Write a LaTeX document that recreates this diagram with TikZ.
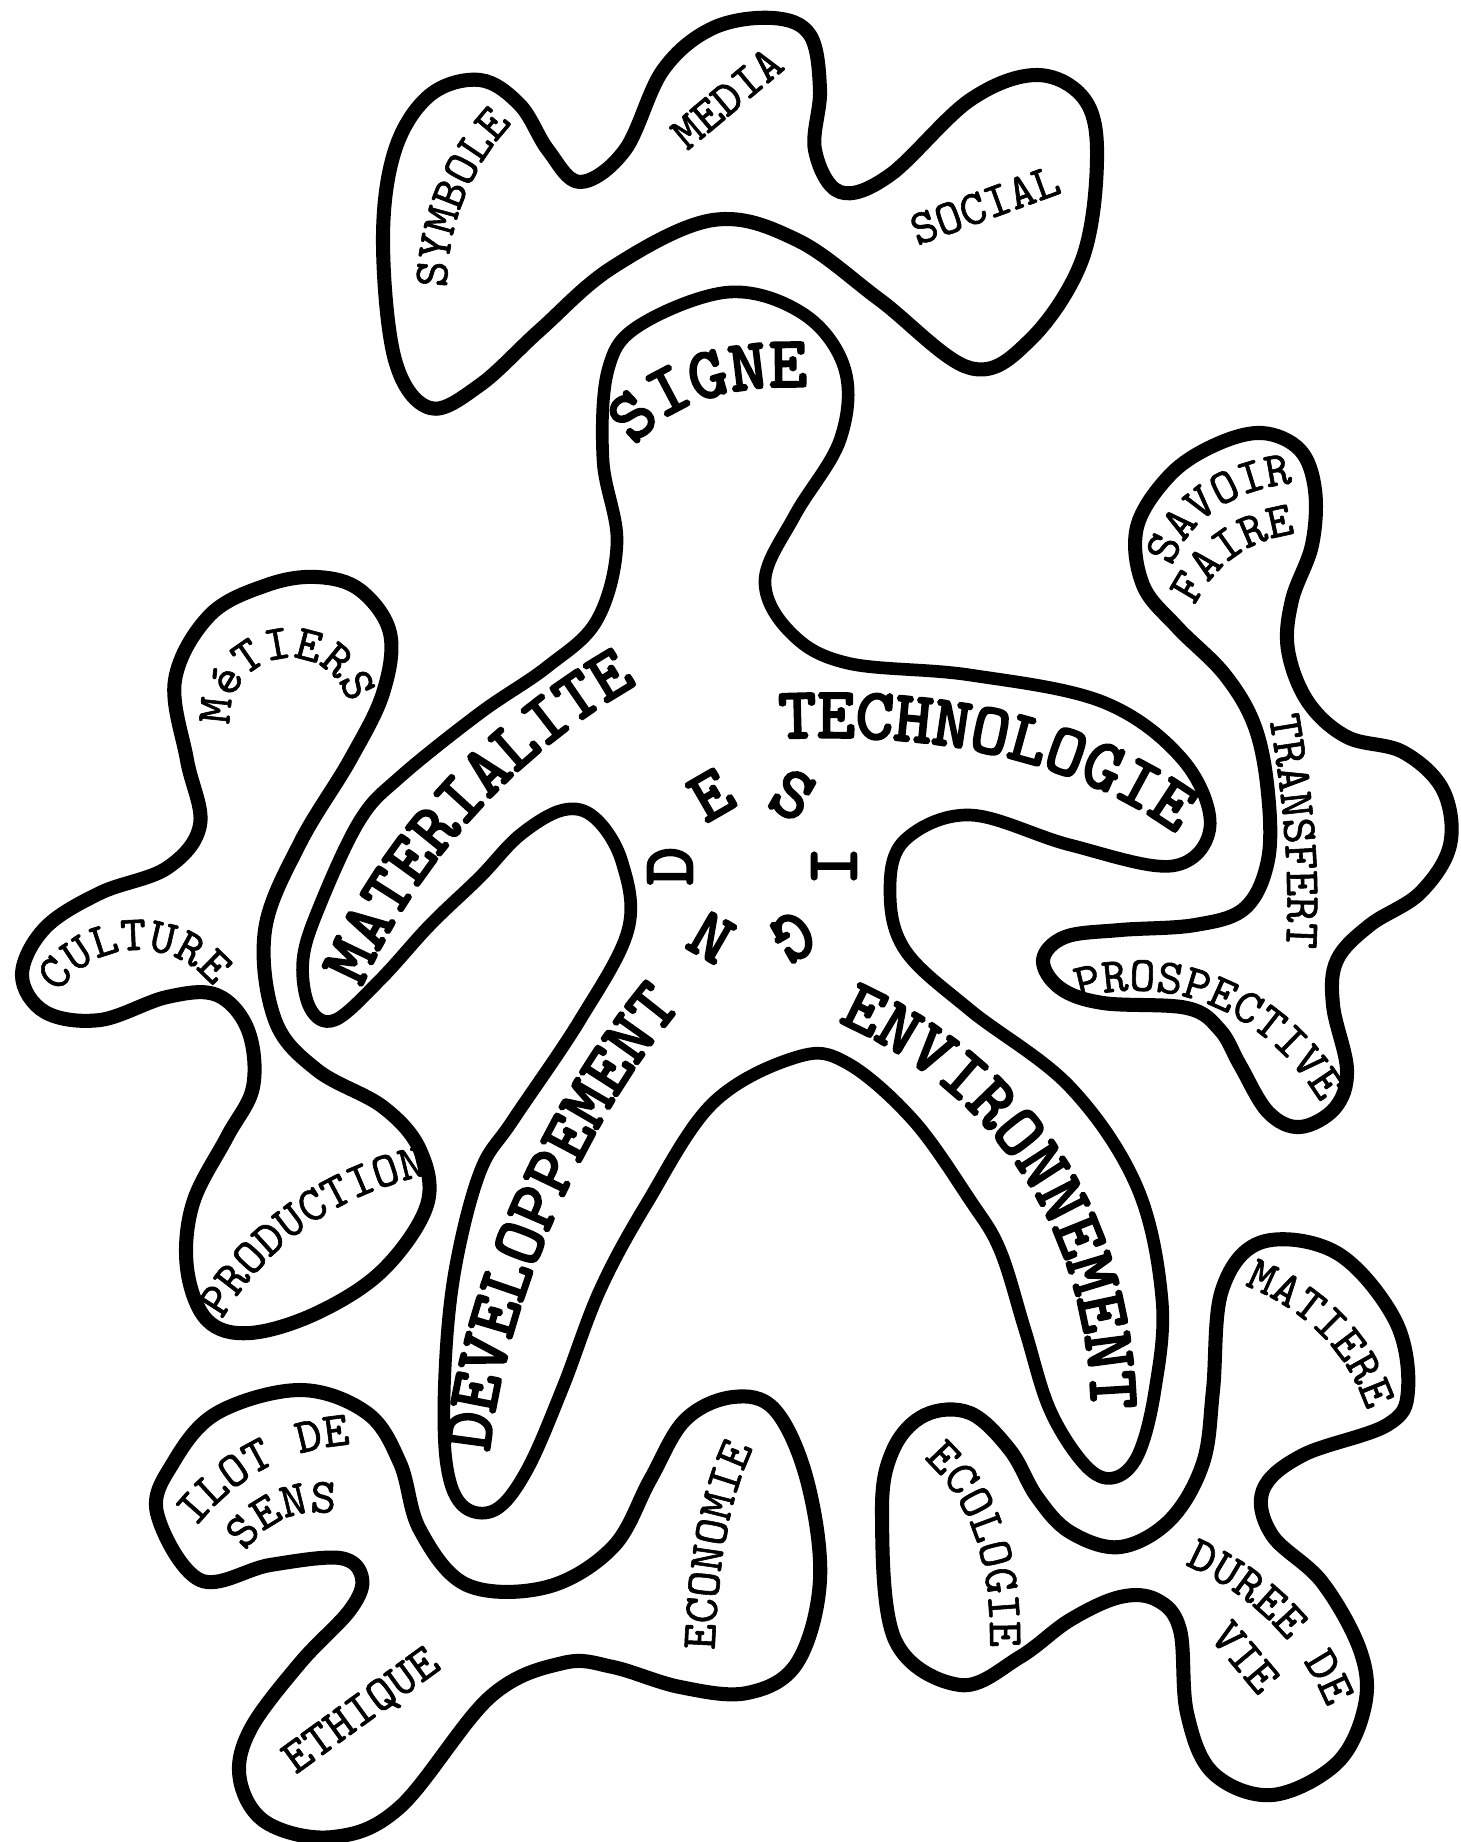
\documentclass[tikz,border=0pt]{standalone}
\usepackage{fontspec}
\newfontfamily\lighttt{lmmono10-regular.otf}[FakeBold=1.2]
\newfontfamily\heavytt{lmmono10-regular.otf}[FakeBold=3.5]
\newcommand\smalltype{\lighttt\fontsize{14}{16}\selectfont}
\newcommand\bigtype{\heavytt\fontsize{20.5}{22}\selectfont}
\usetikzlibrary{decorations.text}
\tikzset{
  blob/.style   = {line width=4pt, line join=round},
  starblob/.style = {line width=3.6pt, line join=round},
  small/.style  = {font=\smalltype, inner sep=0pt},
  big/.style    = {font=\bigtype, inner sep=0pt},
  curved/.style 2 args = {decorate, decoration={text along path,
                 text align=center, text={|#1|#2}}},
}

\begin{document}
\begin{tikzpicture}[x=0.01cm, y=-0.01cm]
  \useasboundingbox (0,0) rectangle (1461,1842);

  % top cloud
  \draw[blob] plot[smooth cycle, tension=0.6] coordinates {
    (383,240) (395,150) (430,95) (480,80) (520,105) (548,150) (580,182)
    (625,150) (663,70) (713,28) (773,18) (810,35) (820,90) (815,150)
    (840,192) (890,175) (970,100) (1037,75) (1085,100) (1097,160)
    (1082,260) (1030,340) (970,368) (880,300) (797,240) (713,220)
    (613,267) (540,330) (480,385) (430,408) (395,360)};

  % left cloud
  \draw[blob] plot[smooth cycle, tension=0.6] coordinates {
    (22,975) (45,928) (100,893) (167,868) (200,825) (187,760) (175,680)
    (210,615) (267,585) (317,577) (360,590) (390,633) (383,693) (350,760)
    (300,843) (265,930) (275,1020) (317,1070) (383,1107) (420,1150)
    (427,1205) (383,1270) (317,1313) (250,1333) (207,1320) (187,1268)
    (193,1203) (227,1137) (253,1087) (248,1030) (217,995) (167,997)
    (100,1020) (45,1012)};

  % right cloud
  \draw[blob] plot[smooth cycle, tension=0.6] coordinates {
    (1170,475) (1215,445) (1262,433) (1300,450) (1315,490) (1312,545)
    (1292,600) (1288,650) (1308,702) (1347,737) (1403,752) (1443,790)
    (1450,845) (1420,893) (1370,925) (1337,960) (1333,1005) (1347,1070)
    (1335,1108) (1300,1127) (1268,1112) (1240,1065) (1220,1030)
    (1187,1008) (1103,1003) (1060,988) (1043,960) (1065,937) (1120,930)
    (1195,925) (1245,908) (1268,860) (1268,793) (1255,727) (1225,675)
    (1177,627) (1143,585) (1137,527)};

  % bottom left cloud
  \draw[blob] plot[smooth cycle, tension=0.6] coordinates {
    (157,1513) (173,1463) (217,1413) (300,1390) (367,1413) (400,1463)
    (420,1530) (467,1585) (547,1587) (613,1547) (650,1480) (685,1420)
    (733,1397) (775,1410) (807,1480) (820,1580) (797,1663) (747,1693)
    (680,1687) (613,1667) (563,1663) (490,1697) (400,1807) (333,1837)
    (267,1823) (240,1780) (250,1730) (300,1663) (350,1610) (362,1578)
    (340,1558) (270,1565) (200,1580)};

  % bottom right cloud
  \draw[blob] plot[smooth cycle, tension=0.6] coordinates {
    (882,1513) (893,1450) (925,1415) (970,1413) (1010,1450) (1037,1497)
    (1070,1532) (1120,1547) (1170,1520) (1203,1463) (1213,1390)
    (1222,1290) (1262,1242) (1337,1253) (1395,1320) (1408,1390)
    (1387,1425) (1303,1455) (1263,1490) (1272,1535) (1322,1582)
    (1360,1650) (1365,1705) (1337,1763) (1272,1795) (1213,1773)
    (1187,1713) (1180,1630) (1157,1600) (1120,1597) (1070,1620)
    (1020,1657) (960,1685) (895,1640)};

  % the star
  \draw[starblob] plot[smooth cycle, tension=0.6] coordinates {
    (730,292) (805,315) (845,370) (840,440) (795,515) (765,580) (790,632)
    (847,663) (970,675) (1103,702) (1183,760) (1210,827) (1172,866)
    (1070,845) (970,815) (905,840) (890,890) (905,950) (970,1010)
    (1070,1087) (1137,1187) (1162,1300) (1155,1390) (1138,1455)
    (1113,1478) (1085,1465) (1050,1410) (1025,1330) (1000,1250)
    (970,1200) (913,1120) (847,1063) (797,1057) (713,1103) (647,1203)
    (600,1290) (563,1387) (527,1470) (495,1510) (462,1505) (446,1460)
    (445,1370) (455,1270) (480,1172) (513,1120) (580,1020) (628,930)
    (622,862) (595,818) (563,810) (520,835) (480,877) (430,925)
    (380,980) (335,1020) (310,1008) (303,960) (320,905) (360,820)
    (400,777) (480,713) (547,667) (597,620) (617,543) (603,460)
    (608,370) (640,325)};

  % star words
  \path[curved={\bigtype}{SIGNE}] (622,465) .. controls (655,405) and (725,380) .. (830,388);
  \path[curved={\bigtype}{TECHNOLOGIE}] (752,740) .. controls (900,730) and (1070,745) .. (1198,850);
  \path[curved={\bigtype}{MATERIALITE}] (355,1003) .. controls (405,880) and (505,755) .. (652,676);
  \path[curved={\bigtype}{DEVELOPPEMENT}] (487,1480) .. controls (495,1320) and (585,1110) .. (700,985);
  \path[curved={\bigtype}{ENVIRONNEMENT}] (815,1012) .. controls (975,1075) and (1095,1210) .. (1092,1435);
  \foreach \ch/\ang in {D/180,E/120,S/60,I/0,G/-60,N/-120}
    \node[big, rotate=\ang-90] (design-\ch) at ({752+82*cos(\ang)},{866-82*sin(\ang)}) {\ch};

  % cloud words
  \path[curved={\smalltype}{SYMBOLE}] (447,310) .. controls (443,230) and (470,160) .. (528,108);
  \node[small, rotate=40] (media) at (727,98) {MEDIA};
  \node[small, rotate=20] (social) at (985,205) {SOCIAL};
  \path[curved={\smalltype}{MéTIERS}] (290,718) ++(-190:60) arc[start angle=-190, end angle=-10, radius=60];
  \path[curved={\smalltype}{CULTURE}] (138,1045) ++(-150:95) arc[start angle=-150, end angle=-35, radius=95];
  \path[curved={\smalltype}{PRODUCTION}] (222,1320) .. controls (262,1250) and (335,1194) .. (428,1175);
  \path[curved={\smalltype}{SAVOIR}] (1168,578) .. controls (1185,520) and (1230,488) .. (1305,482);
  \path[curved={\smalltype}{FAIRE}] (1192,612) .. controls (1212,565) and (1250,538) .. (1302,533);
  \path[curved={\smalltype}{TRANSFERT}] (1266,700) .. controls (1282,790) and (1292,870) .. (1285,965);
  \path[curved={\smalltype}{PROSPECTIVE}] (1070,1002) .. controls (1160,970) and (1265,1005) .. (1325,1110);
  \path[curved={\smalltype}{ILOT DE}] (190,1535) .. controls (235,1475) and (290,1447) .. (360,1444);
  \path[curved={\smalltype}{SENS}] (238,1562) .. controls (262,1522) and (300,1503) .. (348,1517);
  \node[small, rotate=36] (ethique) at (362,1712) {ETHIQUE};
  \path[curved={\smalltype}{ECONOMIE}] (714,1665) .. controls (717,1580) and (725,1500) .. (760,1435);
  \path[curved={\smalltype}{MATIERE}] (1235,1282) .. controls (1300,1305) and (1350,1350) .. (1370,1420);
  \path[curved={\smalltype}{ECOLOGIE}] (920,1455) .. controls (965,1495) and (992,1550) .. (990,1652);
  \path[curved={\smalltype}{DUREE DE}] (1172,1560) .. controls (1240,1585) and (1305,1640) .. (1332,1720);
  \node[small, rotate=-50] (vie) at (1245,1657) {VIE};
\end{tikzpicture}
\end{document}
